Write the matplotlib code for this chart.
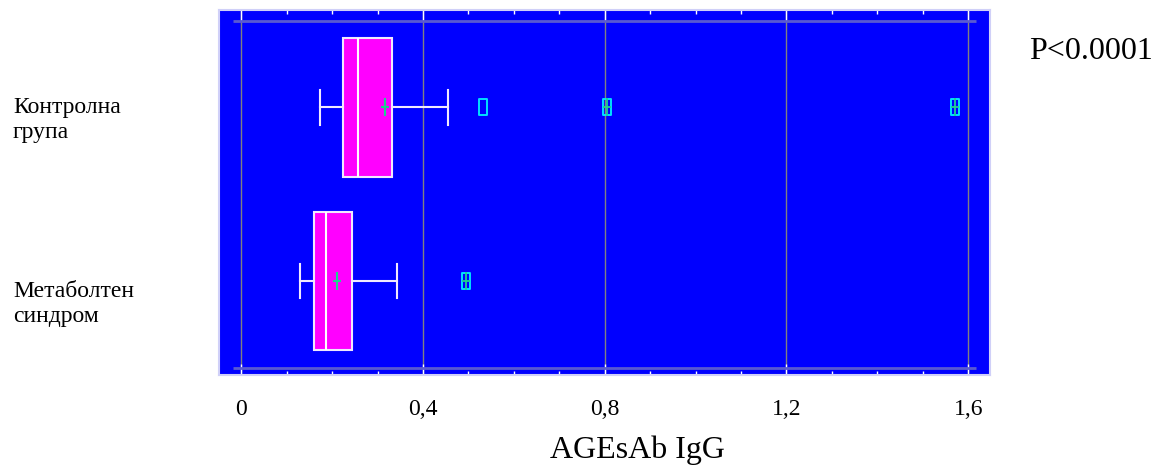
import numpy as np
import matplotlib
matplotlib.use("Agg")
import matplotlib.pyplot as plt
from matplotlib.path import Path

plt.rcParams['font.family'] = ['Liberation Serif', 'DejaVu Serif']

# group data, top group first
groups = ["Контролна\nгрупа", "Метаболтен\nсиндром"]
positions = [1, 0]
q1 = [0.225, 0.161]
median = [0.256, 0.186]
q3 = [0.331, 0.243]
whis_lo = [0.174, 0.129]
whis_hi = [0.454, 0.342]
means = [0.316, 0.211]
outliers = [[0.531], []]
far_outliers = [[0.804, 1.570], [0.495]]

xticks = [0, 0.4, 0.8, 1.2, 1.6]
xtick_labels = ["0", "0,4", "0,8", "1,2", "1,6"]

W, H = 1154, 466
fig = plt.figure(figsize=(W / 100, H / 100), dpi=100)
ax = fig.add_axes([219 / W, 1 - 375 / H, (990 - 219) / W, (375 - 10) / H])
ax.set_facecolor("#0000FF")

stats = []
for i in range(len(groups)):
    stats.append(dict(med=median[i], q1=q1[i], q3=q3[i], whislo=whis_lo[i],
                      whishi=whis_hi[i], mean=means[i], fliers=[]))

plus = Path([(0, -1), (0, 1), (-0.41, 0), (0.41, 0)],
            [Path.MOVETO, Path.LINETO, Path.MOVETO, Path.LINETO])
rect = Path([(-0.47, -1), (0.47, -1), (0.47, 1), (-0.47, 1), (-0.47, -1)],
            [Path.MOVETO, Path.LINETO, Path.LINETO, Path.LINETO, Path.CLOSEPOLY])

edge = "#F0E8FF"
green = "#20D090"
ax.bxp(stats, positions=positions, widths=0.8, capwidths=0.2,
       orientation="horizontal", patch_artist=True, showmeans=True,
       showfliers=False,
       boxprops=dict(facecolor="#FF00FF", edgecolor=edge, linewidth=1.5),
       medianprops=dict(color="white", linewidth=1.5),
       whiskerprops=dict(color=edge, linewidth=1.5),
       capprops=dict(color=edge, linewidth=1.5),
       meanprops=dict(marker=plus, markersize=12.5, markeredgecolor=green,
                      markerfacecolor="none", markeredgewidth=1.5))

for pos, near, far in zip(positions, outliers, far_outliers):
    if near:
        ax.plot(near, [pos] * len(near), ls="none", marker=rect, markersize=11,
                markerfacecolor="none", markeredgecolor="#00E0FF", markeredgewidth=1.4)
    if far:
        ax.plot(far, [pos] * len(far), ls="none", marker=rect, markersize=11,
                markerfacecolor="none", markeredgecolor="#00E0FF", markeredgewidth=1.4)
        ax.plot(far, [pos] * len(far), ls="none", marker=plus, markersize=12.5,
                markerfacecolor="none", markeredgecolor=green, markeredgewidth=1.3)

ax.hlines([-0.5, 1.5], -0.0174, 1.618, color="#5A5AD0", linewidth=2, zorder=1)

ax.set_xlim(-0.049, 1.648)
ax.set_ylim(-0.542, 1.562)
ax.set_xticks(xticks)
ax.set_xticklabels(xtick_labels, fontsize=17)
ax.set_xticks(np.arange(0, 1.61, 0.1), minor=True)
ax.set_yticks([])
ax.grid(axis="x", color="#808080", linewidth=1)
ax.set_axisbelow(True)
ax.tick_params(axis="x", which="both", direction="in", top=True, bottom=True,
               color="white", labelcolor="black")
ax.tick_params(axis="x", which="major", length=8, width=1, pad=17)
ax.tick_params(axis="x", which="minor", length=3, width=1)
for s in ax.spines.values():
    s.set_color("#D0D0F8")
    s.set_linewidth(1.5)

# group labels, P value and axis title
fig.text(13 / W, 1 - 120 / H, groups[0], fontsize=17, ha="left", va="center", linespacing=1.3)
fig.text(13 / W, 1 - 304 / H, groups[1], fontsize=17, ha="left", va="center", linespacing=1.3)
fig.text(1029 / W, 1 - 59 / H, "P<0.0001", fontsize=23, ha="left", va="baseline")
fig.text(637 / W, 1 - 458 / H, "AGEsAb IgG", fontsize=23, ha="center", va="baseline")

fig.savefig("out.png", dpi=100)
